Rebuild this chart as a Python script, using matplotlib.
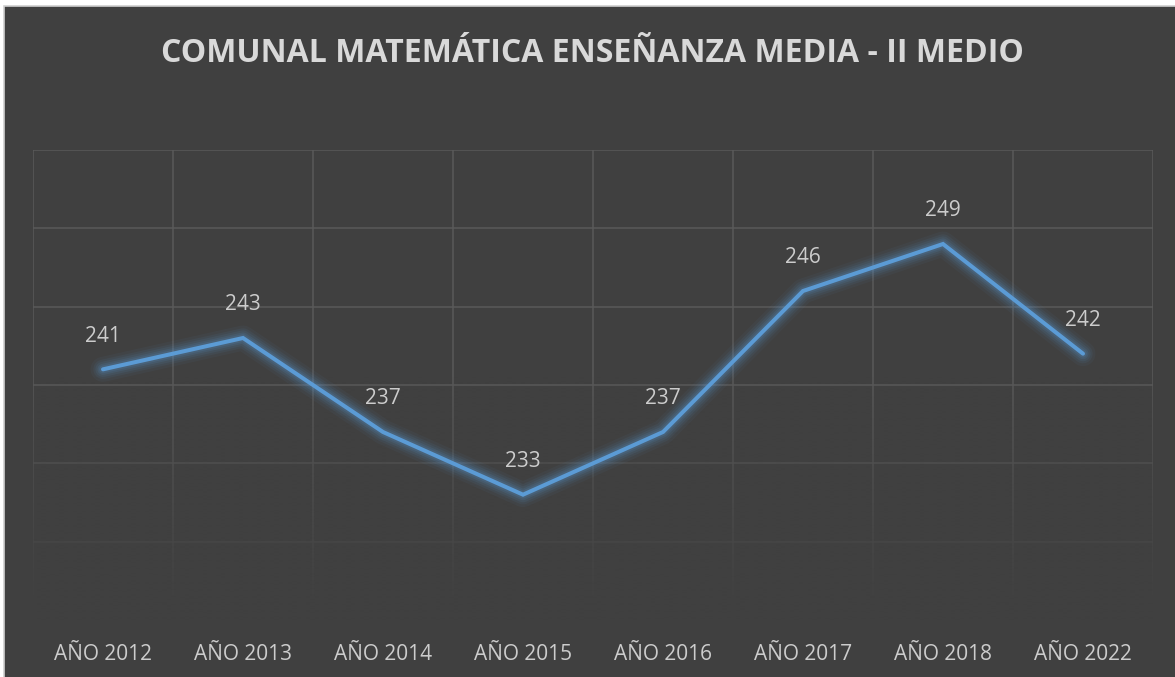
import matplotlib
matplotlib.use("Agg")
import matplotlib.pyplot as plt
import numpy as np
from matplotlib.patches import Rectangle

categories = ["AÑO 2012", "AÑO 2013", "AÑO 2014", "AÑO 2015",
              "AÑO 2016", "AÑO 2017", "AÑO 2018", "AÑO 2022"]
values = [241, 243, 237, 233, 237, 246, 249, 242]
title = "COMUNAL MATEMÁTICA ENSEÑANZA MEDIA - II MEDIO"

BG = "#404040"
GRID = "#5a5a5a"
TXT = "#cccccc"
LINE = "#5b9bd5"

W, H = 1175, 677
fig = plt.figure(figsize=(W / 100, H / 100), dpi=100, facecolor="white")
fig.patches.append(Rectangle((4 / W, -0.05), 1.1, 1 - 6 / H + 0.05,
                             transform=fig.transFigure, facecolor=BG,
                             edgecolor="#d0d0d0", linewidth=1.2, zorder=-10))

ax = fig.add_axes([33 / W, 1 - 620 / H, (1153 - 33) / W, (620 - 150) / H])
ax.set_facecolor("none")
ax.patch.set_alpha(0)
x = np.arange(len(categories))

# gridlines
for yv in np.arange(230, 256, 5):
    ax.axhline(yv, color=GRID, lw=1.1, zorder=1)
for xv in np.arange(-0.5, len(categories), 1.0):
    ax.axvline(xv, ymin=0, ymax=1, color=GRID, lw=1.1, zorder=1)

# fade overlay for lower part of the grid
grad = np.zeros((256, 1, 4))
rgb = matplotlib.colors.to_rgb(BG)
grad[..., 0], grad[..., 1], grad[..., 2] = rgb
alpha = np.clip((240.5 - np.linspace(225, 255, 256)) / (240.5 - 225.8), 0, 1)
grad[:, 0, 3] = alpha ** 0.9
ax.imshow(grad, extent=[-0.6, len(categories) - 0.4, 225, 255], origin="lower",
          aspect="auto", zorder=1.5, interpolation="bilinear")

# glow
for lw, a in [(18, 0.05), (14, 0.07), (11, 0.09), (8, 0.12), (5.5, 0.15)]:
    ax.plot(x, values, color=LINE, lw=lw, alpha=a, solid_capstyle="round",
            solid_joinstyle="round", zorder=2)
ax.plot(x, values, color=LINE, lw=2.9, solid_capstyle="round",
        solid_joinstyle="miter", zorder=3)

for xi, v in zip(x, values):
    ax.annotate(str(v), (xi, v), xytext=(0, 24), textcoords="offset points",
                ha="center", va="center", fontsize=15, color=TXT,
                family="Open Sans", zorder=4)

ax.set_xlim(-0.5, len(categories) - 0.5)
ax.set_ylim(225, 255)
ax.set_yticks(np.arange(225, 256, 5))
ax.set_xticks(x)
ax.set_xticklabels(categories, fontsize=15, color=TXT, family="Open Sans")
ax.tick_params(axis="both", length=0)
ax.tick_params(axis="x", pad=17)
ax.set_yticklabels([])
for s in ax.spines.values():
    s.set_visible(False)

fig.text(592 / W, 1 - 53 / H, title, ha="center", va="center", fontsize=23,
         fontweight="bold", color="#d9d9d9", family="Open Sans")

fig.savefig("out.png", dpi=100, facecolor=fig.get_facecolor())
